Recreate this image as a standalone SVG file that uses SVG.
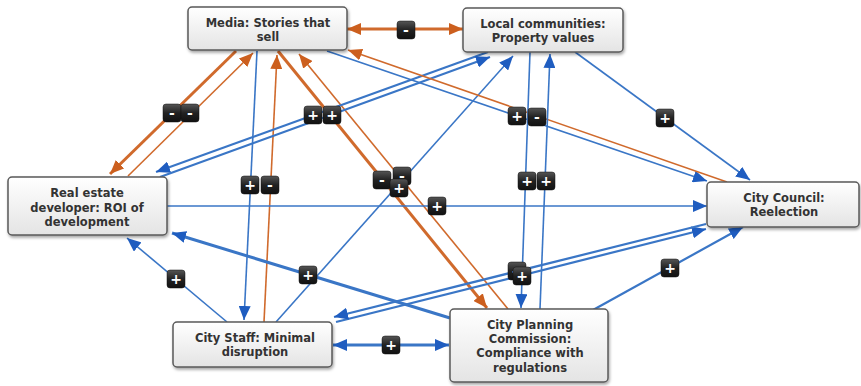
<svg xmlns="http://www.w3.org/2000/svg" width="861" height="386" viewBox="0 0 861 386">
<style>
.node rect{fill:url(#ng);stroke:#5a5a5a;stroke-width:1.5}
.node text{font-family:"DejaVu Sans","Verdana",sans-serif;font-weight:bold;font-size:11.5px;fill:#333;text-anchor:middle}
.b{stroke:#3a76c6;fill:none}
.o{stroke:#d06a2c;fill:none}
.thin{stroke-width:1.6}
.mid{stroke-width:2.2}
.thick{stroke-width:3}
.badge rect{fill:url(#bg);stroke:#111;stroke-width:0.5}
.badge text{font-family:"DejaVu Sans",sans-serif;font-weight:bold;font-size:14px;fill:#fff;text-anchor:middle}
</style>
<defs>
<linearGradient id="ng" x1="0" y1="0" x2="0" y2="1"><stop offset="0" stop-color="#ffffff"/><stop offset="1" stop-color="#e4e4e4"/></linearGradient>
<linearGradient id="bg" x1="0" y1="0" x2="0" y2="1"><stop offset="0" stop-color="#555"/><stop offset="0.5" stop-color="#222"/><stop offset="1" stop-color="#111"/></linearGradient>
<filter id="sh" x="-10%" y="-10%" width="120%" height="130%"><feDropShadow dx="1" dy="2" stdDeviation="1.5" flood-color="#000" flood-opacity="0.35"/></filter>
<marker id="ab" viewBox="0 0 14 12" refX="14" refY="6" markerWidth="14" markerHeight="12" markerUnits="userSpaceOnUse" orient="auto-start-reverse"><path d="M0,0 L14,6 L0,12 z" fill="#1f5dc0"/></marker>
<marker id="ao" viewBox="0 0 14 12" refX="14" refY="6" markerWidth="14" markerHeight="12" markerUnits="userSpaceOnUse" orient="auto-start-reverse"><path d="M0,0 L14,6 L0,12 z" fill="#cc5f1e"/></marker>
</defs>
<rect width="861" height="386" fill="#fff"/>
<g id="connectors">
<line class="o thick" x1="347" y1="29" x2="463" y2="29" marker-start="url(#ao)" marker-end="url(#ao)"/>
<line class="o thick" x1="236" y1="51" x2="110" y2="174" marker-end="url(#ao)"/>
<line class="o thin" x1="128" y1="176" x2="253" y2="53" marker-end="url(#ao)"/>
<line class="b thin" x1="257" y1="51" x2="244" y2="320" marker-end="url(#ab)"/>
<line class="o thin" x1="264" y1="322" x2="277" y2="55" marker-end="url(#ao)"/>
<line class="o thick" x1="278" y1="51" x2="487" y2="308" marker-end="url(#ao)"/>
<line class="o thin" x1="508" y1="309" x2="299" y2="54" marker-end="url(#ao)"/>
<line class="b mid" x1="488" y1="52" x2="156" y2="172" marker-end="url(#ab)"/>
<line class="b mid" x1="160" y1="177" x2="490" y2="57" marker-end="url(#ab)"/>
<line class="b thin" x1="276" y1="322" x2="513" y2="56" marker-end="url(#ab)"/>
<line class="b thin" x1="327" y1="51" x2="707" y2="181" marker-end="url(#ab)"/>
<line class="o thin" x1="727" y1="182" x2="348" y2="50" marker-end="url(#ao)"/>
<line class="b thin" x1="575" y1="52" x2="750" y2="180" marker-end="url(#ab)"/>
<line class="b thin" x1="530" y1="52" x2="521" y2="308" marker-end="url(#ab)"/>
<line class="b thin" x1="540" y1="309" x2="550" y2="54" marker-end="url(#ab)"/>
<line class="b thin" x1="167" y1="206" x2="707" y2="206" marker-end="url(#ab)"/>
<line class="b thick" x1="450" y1="318" x2="172" y2="233" marker-end="url(#ab)"/>
<line class="b thin" x1="227" y1="322" x2="127" y2="238" marker-end="url(#ab)"/>
<line class="b mid" x1="336" y1="322" x2="706" y2="229" marker-end="url(#ab)"/>
<line class="b mid" x1="706" y1="224" x2="334" y2="317" marker-end="url(#ab)"/>
<line class="b mid" x1="593" y1="310" x2="743" y2="227" marker-end="url(#ab)"/>
<line class="b thick" x1="333" y1="345" x2="449" y2="345" marker-start="url(#ab)" marker-end="url(#ab)"/>
</g>
<g id="badges">
<g class="badge" transform="translate(406,30)"><rect x="-9" y="-9" width="18" height="18" rx="3"/><text y="5">-</text></g>
<g class="badge" transform="translate(172,113)"><rect x="-9" y="-9" width="18" height="18" rx="3"/><text y="5">-</text></g>
<g class="badge" transform="translate(190,113)"><rect x="-9" y="-9" width="18" height="18" rx="3"/><text y="5">-</text></g>
<g class="badge" transform="translate(313,115)"><rect x="-9" y="-9" width="18" height="18" rx="3"/><text y="5">+</text></g>
<g class="badge" transform="translate(332,115)"><rect x="-9" y="-9" width="18" height="18" rx="3"/><text y="5">+</text></g>
<g class="badge" transform="translate(517,116)"><rect x="-9" y="-9" width="18" height="18" rx="3"/><text y="5">+</text></g>
<g class="badge" transform="translate(537,117)"><rect x="-9" y="-9" width="18" height="18" rx="3"/><text y="5">-</text></g>
<g class="badge" transform="translate(665,118)"><rect x="-9" y="-9" width="18" height="18" rx="3"/><text y="5">+</text></g>
<g class="badge" transform="translate(250,185)"><rect x="-9" y="-9" width="18" height="18" rx="3"/><text y="5">+</text></g>
<g class="badge" transform="translate(270,185)"><rect x="-9" y="-9" width="18" height="18" rx="3"/><text y="5">-</text></g>
<g class="badge" transform="translate(382,180)"><rect x="-9" y="-9" width="18" height="18" rx="3"/><text y="5">-</text></g>
<g class="badge" transform="translate(402,176)"><rect x="-9" y="-9" width="18" height="18" rx="3"/><text y="5">-</text></g>
<g class="badge" transform="translate(399,188)"><rect x="-9" y="-9" width="18" height="18" rx="3"/><text y="5">+</text></g>
<g class="badge" transform="translate(527,181)"><rect x="-9" y="-9" width="18" height="18" rx="3"/><text y="5">+</text></g>
<g class="badge" transform="translate(546,181)"><rect x="-9" y="-9" width="18" height="18" rx="3"/><text y="5">+</text></g>
<g class="badge" transform="translate(437,206)"><rect x="-9" y="-9" width="18" height="18" rx="3"/><text y="5">+</text></g>
<g class="badge" transform="translate(176,279)"><rect x="-9" y="-9" width="18" height="18" rx="3"/><text y="5">+</text></g>
<g class="badge" transform="translate(308,275)"><rect x="-9" y="-9" width="18" height="18" rx="3"/><text y="5">+</text></g>
<g class="badge" transform="translate(517,271)"><rect x="-9" y="-9" width="18" height="18" rx="3"/><text y="5">+</text></g>
<g class="badge" transform="translate(522,276)"><rect x="-9" y="-9" width="18" height="18" rx="3"/><text y="5">+</text></g>
<g class="badge" transform="translate(670,268)"><rect x="-9" y="-9" width="18" height="18" rx="3"/><text y="5">+</text></g>
<g class="badge" transform="translate(391,345)"><rect x="-9" y="-9" width="18" height="18" rx="3"/><text y="5">+</text></g>
</g>
<g id="media" class="node"><rect x="188" y="7" width="159" height="43" rx="4" filter="url(#sh)"/><text x="268" y="27">Media: Stories that</text><text x="268" y="41">sell</text></g>
<g id="local-communities" class="node"><rect x="463" y="8" width="160" height="44" rx="4" filter="url(#sh)"/><text x="543" y="28">Local communities:</text><text x="543" y="42">Property values</text></g>
<g id="real-estate" class="node"><rect x="8" y="177" width="159" height="58" rx="4" filter="url(#sh)"/><text x="87" y="197">Real estate</text><text x="87" y="212">developer: ROI of</text><text x="87" y="226">development</text></g>
<g id="city-council" class="node"><rect x="707" y="182" width="152" height="45" rx="4" filter="url(#sh)"/><text x="784" y="202">City Council:</text><text x="784" y="216">Reelection</text></g>
<g id="city-staff" class="node"><rect x="173" y="322" width="159" height="45" rx="4" filter="url(#sh)"/><text x="255" y="342">City Staff: Minimal</text><text x="255" y="356">disruption</text></g>
<g id="city-planning" class="node"><rect x="450" y="309" width="158" height="73" rx="4" filter="url(#sh)"/><text x="530" y="329">City Planning</text><text x="530" y="343">Commission:</text><text x="530" y="357">Compliance with</text><text x="530" y="372">regulations</text></g>
</svg>
